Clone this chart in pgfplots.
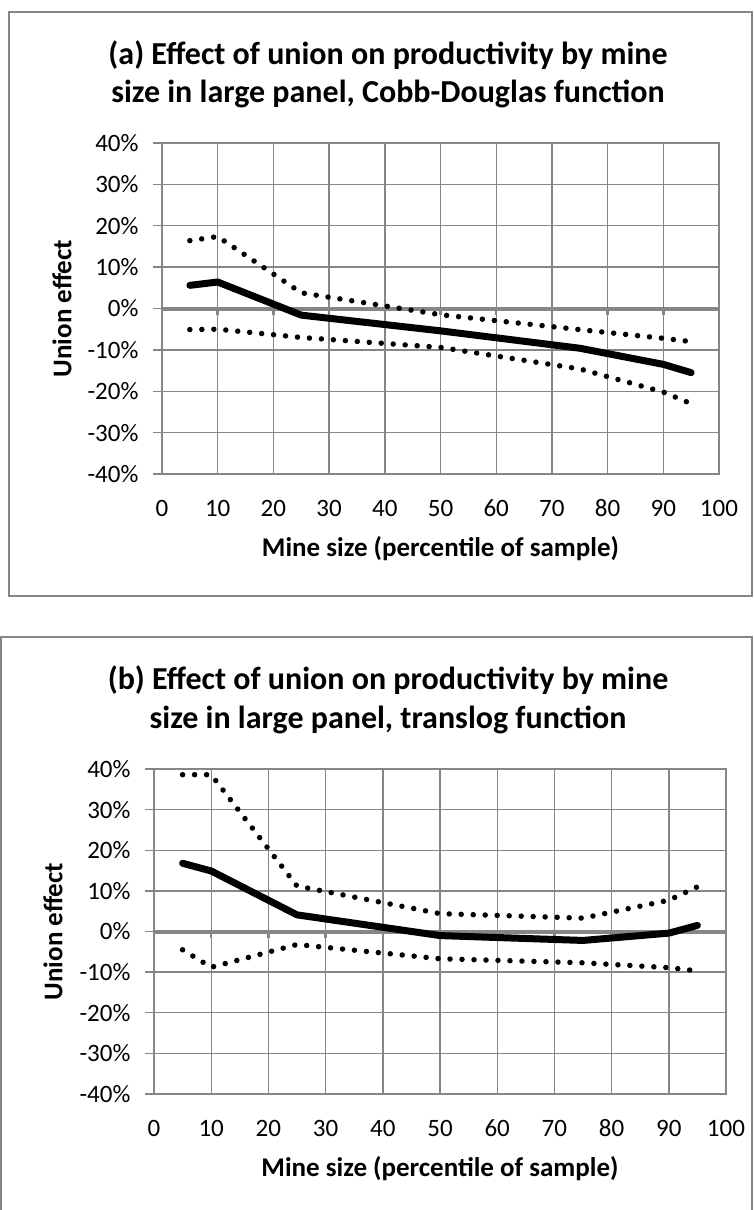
\documentclass[border=0pt]{standalone}
\usepackage{fontspec}
\setmainfont{Carlito}
\usepackage{pgfplots}
\pgfplotsset{compat=1.18}
\definecolor{gridgray}{HTML}{868686}
\tikzset{lab/.style={font=\bfseries\fontsize{27}{32}\selectfont, anchor=center}}

\pgfplotsset{
  uefig/.style={
    scale only axis,
    xmin=0, xmax=100, ymin=-40, ymax=40,
    xtick={0,10,...,100},
    ytick={-40,-30,...,40},
    yticklabels={-40\%,-30\%,-20\%,-10\%,0\%,10\%,20\%,30\%,40\%},
    /pgf/number format/assume math mode=true,
    grid=major,
    grid style={gridgray, line width=1.4pt},
    axis line style={gridgray, line width=1.4pt},
    tick align=outside,
    major tick length=9pt,
    ytick pos=left,
    xtick pos=bottom,
    xtick style={draw=none},
    ytick style={gridgray, line width=1.4pt},
    tick label style={font=\fontsize{25}{30}\selectfont, text=black},
    xticklabel style={yshift=-14pt, text height=16pt, text depth=0pt},
    yticklabel style={xshift=-11pt},
    clip=false,
  },
  ci/.style={black, line width=5.5pt, line cap=round, dash pattern=on 0pt off 12pt},
  est/.style={black, line width=7pt, line cap=round, line join=round},
}

\begin{document}
\begin{tikzpicture}
\useasboundingbox (0,0) rectangle (753pt,-1210pt);
% frames
\draw[gridgray, line width=2pt] (9pt,-12pt) rectangle (752pt,-596pt);
\draw[gridgray, line width=2pt] (1pt,-637pt) rectangle (752pt,-1220pt);
% titles
\node[anchor=base, font=\bfseries\fontsize{32}{36}\selectfont] at (388pt,-64pt) {(a) Effect of union on productivity by mine};
\node[anchor=base, font=\bfseries\fontsize{32}{36}\selectfont] at (388pt,-102pt) {size in large panel, Cobb-Douglas function};
\node[anchor=base, font=\bfseries\fontsize{32}{36}\selectfont] at (388pt,-689pt) {(b) Effect of union on productivity by mine};
\node[anchor=base, font=\bfseries\fontsize{32}{36}\selectfont] at (388pt,-728pt) {size in large panel, translog function};

% panel a
\begin{axis}[uefig, width=557pt, height=331pt, at={(162pt,-474pt)}, anchor=south west,
  xlabel={Mine size (percentile of sample)}, ylabel={Union effect},
  xlabel style={lab, at={(axis description cs:0.5,-0.2266)}},
  ylabel style={lab, at={(axis description cs:-0.1795,0.5)}}]
\draw[gridgray, line width=4pt] (axis cs:0,0) -- (axis cs:100,0);
\pgfplotsinvokeforeach{0,10,...,100}{\draw[gridgray, line width=2.5pt] (axis cs:#1,0) -- (axis cs:#1,-1.5);}
\addplot[ci] coordinates {(5,16.4) (10,17.4) (25,3.8) (50,-1.5) (75,-5.1) (90,-7.2) (95,-8.0)};
\addplot[ci] coordinates {(5,-5.1) (10,-5.0) (25,-7.0) (50,-9.4) (75,-14.6) (90,-20.2) (95,-23.0)};
\addplot[est] coordinates {(5,5.6) (10,6.4) (25,-1.6) (50,-5.4) (75,-9.6) (90,-13.5) (95,-15.5)};
\end{axis}

% panel b
\begin{axis}[uefig, width=572pt, height=325pt, at={(154pt,-1094pt)}, anchor=south west,
  xlabel={Mine size (percentile of sample)}, ylabel={Union effect},
  xlabel style={lab, at={(axis description cs:0.5,-0.2308)}},
  ylabel style={lab, at={(axis description cs:-0.1766,0.5)}}]
\draw[gridgray, line width=4pt] (axis cs:0,0) -- (axis cs:100,0);
\pgfplotsinvokeforeach{0,10,...,100}{\draw[gridgray, line width=2.5pt] (axis cs:#1,0) -- (axis cs:#1,-1.5);}
\addplot[ci] coordinates {(5,38.6) (10,38.6) (25,11.2) (50,4.4) (75,3.3) (90,7.7) (95,11.0)};
\addplot[ci] coordinates {(5,-4.5) (10,-8.8) (25,-3.2) (50,-6.7) (75,-7.7) (90,-8.9) (95,-9.7)};
\addplot[est] coordinates {(5,16.8) (10,14.9) (25,4.1) (50,-1.0) (75,-2.2) (90,-0.4) (95,1.5)};
\end{axis}
\end{tikzpicture}
\end{document}
